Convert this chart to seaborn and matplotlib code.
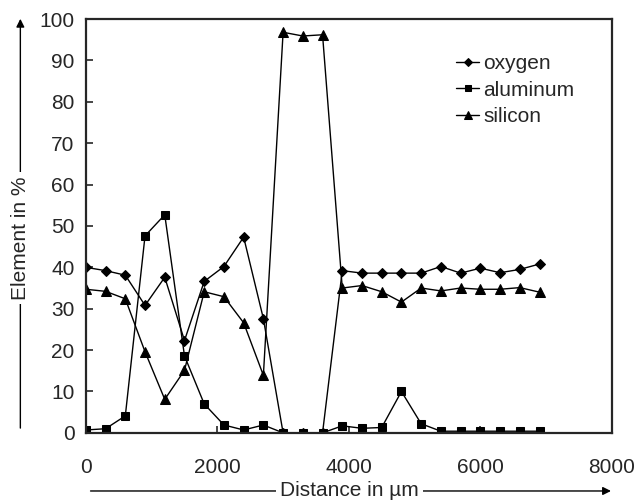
import matplotlib
matplotlib.use("Agg")
import matplotlib.pyplot as plt
import seaborn as sns
import pandas as pd

# distance steps of 300 um
distance = [0, 300, 600, 900, 1200, 1500, 1800, 2100, 2400, 2700, 3000, 3300,
            3600, 3900, 4200, 4500, 4800, 5100, 5400, 5700, 6000, 6300, 6600, 6900]

oxygen = [40.0, 39.2, 38.1, 30.8, 37.6, 22.3, 36.6, 40.2, 47.3, 27.6, 0, 0,
          0, 39.2, 38.6, 38.6, 38.6, 38.6, 40.2, 38.6, 39.8, 38.7, 39.5, 40.8]
aluminum = [0.7, 1.0, 4.1, 47.6, 52.7, 18.6, 7.0, 1.9, 0.7, 1.9, 0, 0,
            0, 1.7, 1.1, 1.3, 10.0, 2.2, 0.4, 0.4, 0.4, 0.4, 0.4, 0.4]
silicon = [34.7, 34.2, 32.4, 19.6, 8.1, 15.1, 34.1, 32.9, 26.6, 13.9, 96.8, 95.9,
           96.2, 35.0, 35.6, 34.1, 31.6, 35.0, 34.3, 35.0, 34.7, 34.7, 35.1, 34.0]

sns.set_style("ticks")
plt.rcParams["font.family"] = ["Liberation Sans", "DejaVu Sans"]

df = pd.DataFrame({"distance": distance, "oxygen": oxygen,
                   "aluminum": aluminum, "silicon": silicon})

fig = plt.figure(figsize=(6.36, 5.01), dpi=100)
ax = fig.add_axes([0.135, 0.136, 0.827, 0.826])

sns.lineplot(data=df, x="distance", y="oxygen", ax=ax, color="k", lw=1,
             marker="D", markersize=5, markeredgecolor="k", label="oxygen")
sns.lineplot(data=df, x="distance", y="aluminum", ax=ax, color="k", lw=1,
             marker="s", markersize=6, markeredgecolor="k", label="aluminum")
sns.lineplot(data=df, x="distance", y="silicon", ax=ax, color="k", lw=1,
             marker="^", markersize=7, markeredgecolor="k", label="silicon")

ax.set_xlim(0, 8000)
ax.set_ylim(0, 100)
ax.set_xticks(range(0, 8001, 2000))
ax.set_yticks(range(0, 101, 10))
ax.tick_params(direction="in", length=5, width=1.2, labelsize=15, pad=8)
ax.tick_params(axis="x", pad=18)
for s in ax.spines.values():
    s.set_linewidth(1.6)
    s.set_visible(True)
ax.set_xlabel("")
ax.set_ylabel("")

leg = ax.legend(loc="upper right", bbox_to_anchor=(0.965, 0.96), frameon=False,
                fontsize=15, handlelength=1.1, handletextpad=0.2,
                labelspacing=0.35, markerscale=0.8)

# axis labels with arrows
fig.text(0.55, 0.02, "Distance in \u00b5m", ha="center", va="center",
         fontsize=15, bbox=dict(facecolor="white", edgecolor="none", pad=3),
         zorder=5)
fig.add_artist(matplotlib.patches.FancyArrowPatch(
    (0.138, 0.02), (0.965, 0.02), transform=fig.transFigure,
    arrowstyle="-|>", mutation_scale=12, color="k", lw=1, zorder=1))
fig.text(0.032, 0.525, "Element in %", ha="center", va="center", rotation=90,
         fontsize=15, bbox=dict(facecolor="white", edgecolor="none", pad=3),
         zorder=5)
fig.add_artist(matplotlib.patches.FancyArrowPatch(
    (0.032, 0.14), (0.032, 0.968), transform=fig.transFigure,
    arrowstyle="-|>", mutation_scale=12, color="k", lw=1, zorder=1))

fig.savefig("out.png", dpi=100)
